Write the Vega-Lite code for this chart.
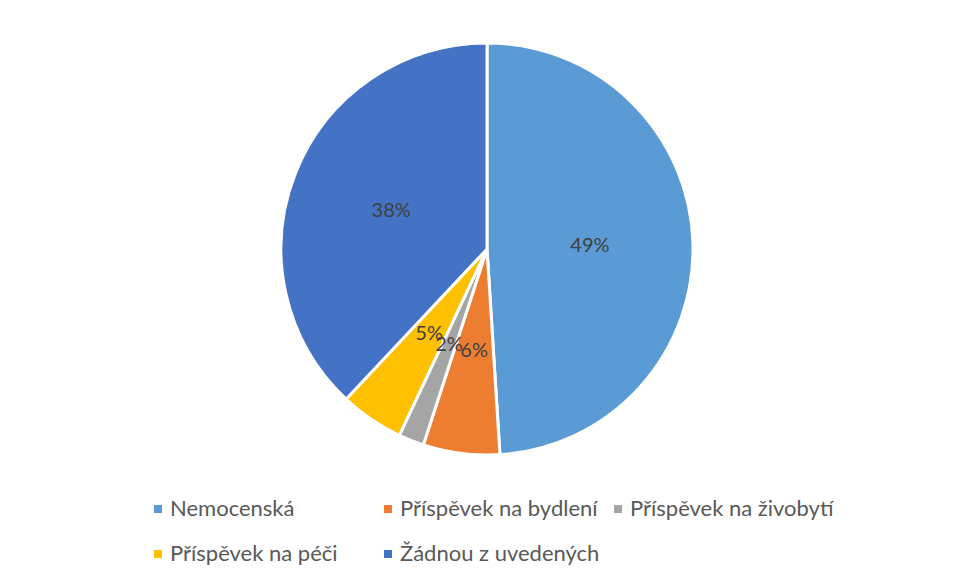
{
  "$schema": "https://vega.github.io/schema/vega-lite/v6.json",
  "width": 960,
  "height": 474,
  "padding": {"left": 7, "top": 12, "right": 0, "bottom": 0},
  "autosize": {"type": "pad"},
  "background": "white",
  "config": {"view": {"stroke": null}, "font": "Lato"},
  "data": {
    "values": [
      {"kategorie": "Nemocenská", "podil": 49, "poradi": 1, "label": "49%"},
      {"kategorie": "Příspěvek na bydlení", "podil": 6, "poradi": 2, "label": "6%"},
      {"kategorie": "Příspěvek na živobytí", "podil": 2, "poradi": 3, "label": "2%"},
      {"kategorie": "Příspěvek na péči", "podil": 5, "poradi": 4, "label": "5%"},
      {"kategorie": "Žádnou z uvedených", "podil": 38, "poradi": 5, "label": "38%"}
    ]
  },
  "encoding": {
    "theta": {"field": "podil", "type": "quantitative", "stack": true},
    "order": {"field": "poradi", "type": "quantitative"}
  },
  "layer": [
    {
      "mark": {"type": "arc", "outerRadius": 206, "stroke": "white", "strokeWidth": 3},
      "encoding": {
        "color": {
          "field": "kategorie",
          "type": "nominal",
          "sort": ["Nemocenská", "Příspěvek na bydlení", "Příspěvek na živobytí", "Příspěvek na péči", "Žádnou z uvedených"],
          "scale": {
            "domain": ["Nemocenská", "Příspěvek na bydlení", "Příspěvek na živobytí", "Příspěvek na péči", "Žádnou z uvedených"],
            "range": ["#5B9BD5", "#ED7D31", "#A5A5A5", "#FFC000", "#4472C4"]
          },
          "legend": {
            "title": null,
            "orient": "none",
            "legendX": 140,
            "legendY": 486,
            "direction": "horizontal",
            "columns": 3,
            "gridAlign": "all",
            "columnPadding": 3,
            "rowPadding": 23,
            "symbolType": "square",
            "symbolSize": 64,
            "symbolStrokeWidth": 0,
            "labelOffset": 1,
            "labelFontSize": 22,
            "labelColor": "#595959",
            "labelFont": "Lato",
            "labelLimit": 400,
            "padding": 0
          }
        }
      }
    },
    {
      "mark": {"type": "text", "radius": 103, "fontSize": 20, "color": "#404040", "font": "Lato"},
      "encoding": {"text": {"field": "label"}}
    }
  ]
}
